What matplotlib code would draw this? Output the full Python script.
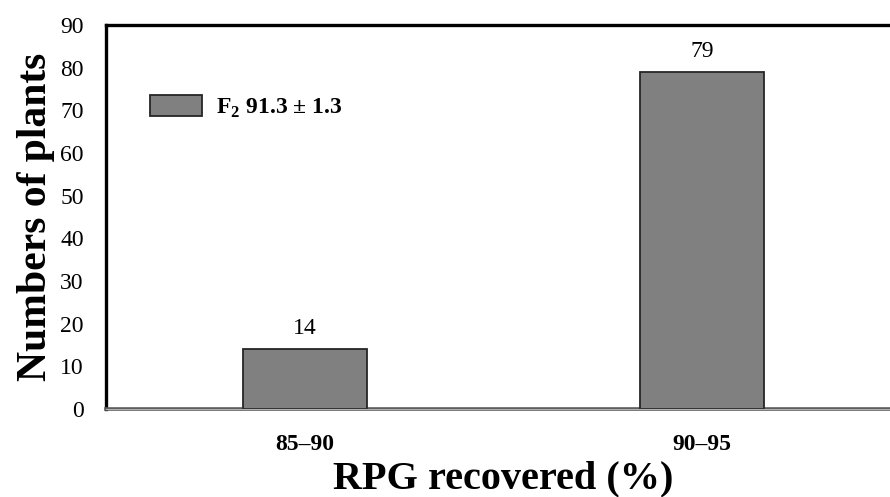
import matplotlib
matplotlib.use('Agg')
import matplotlib.pyplot as plt

plt.rcParams['font.family'] = ['Liberation Serif', 'DejaVu Serif']
plt.rcParams['mathtext.fontset'] = 'custom'
plt.rcParams['mathtext.rm'] = 'Liberation Serif'
plt.rcParams['mathtext.bf'] = 'Liberation Serif:bold'

categories = ['85–90', '90–95']
counts = [14, 79]
series_label = r'F$_{\mathbf{2}}$ 91.3 ± 1.3'
y_ticks = list(range(0, 91, 10))

fig = plt.figure(figsize=(8.9, 4.97), dpi=100)
ax = fig.add_axes([0.1191, 0.1771, 0.893, 0.7726])

x = range(len(categories))
bars = ax.bar(x, counts, width=0.312, color='#808080', edgecolor='#262626',
              linewidth=1.3, label=series_label, zorder=3)
for xi, v in zip(x, counts):
    ax.text(xi, v + 2.3, str(v), ha='center', va='bottom', fontsize=17)

ax.set_xlim(-0.5, 1.5)
ax.set_ylim(0, 90)
ax.set_yticks(y_ticks)
ax.set_xticks(list(x))
ax.set_xticklabels(categories, fontsize=17, fontweight='bold')
ax.tick_params(axis='y', labelsize=17, length=0, pad=16)
ax.tick_params(axis='x', length=0, pad=18)

ax.spines['right'].set_visible(False)
ax.spines['top'].set_linewidth(2.4)
ax.spines['left'].set_linewidth(2.4)
ax.spines['bottom'].set_linewidth(2.6)
ax.spines['bottom'].set_color('#5a5a5a')
ax.axhline(0, color='#b0b0b0', linewidth=0.8, zorder=4, clip_on=False)

ax.set_ylabel('Numbers of plants', fontsize=30, fontweight='bold', labelpad=4)
ax.set_xlabel('RPG recovered (%)', fontsize=29, fontweight='bold', labelpad=4)

leg = ax.legend(loc='upper left', bbox_to_anchor=(0.055, 0.818), frameon=False,
                borderaxespad=0, borderpad=0, handlelength=2.2, handleheight=1.0,
                handletextpad=0.6, prop={'family': 'Liberation Serif', 'weight': 'bold', 'size': 17})

fig.savefig('out.png', dpi=100)
